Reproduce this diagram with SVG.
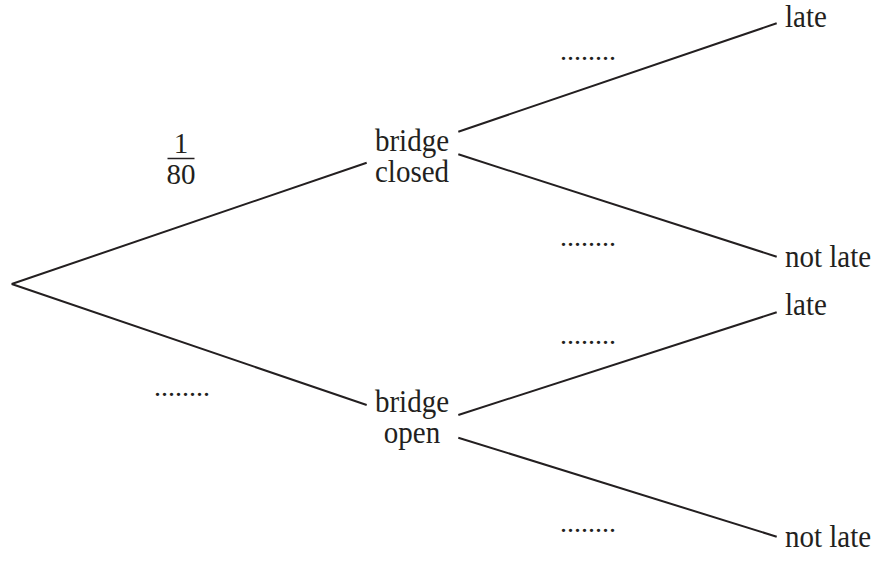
<svg xmlns="http://www.w3.org/2000/svg" width="877" height="564" viewBox="0 0 877 564">
<style>
text{font-family:"Liberation Serif","Times New Roman",serif;font-size:29px;fill:#231f20}
.c{text-anchor:middle}
.d{font-size:28px}
line{stroke:#231f20;stroke-width:2;stroke-linecap:butt}
</style>
<rect width="877" height="564" fill="#fff"/>
<g id="connectors">
<line x1="11.7" y1="284" x2="366.7" y2="162.7"/>
<line x1="11.7" y1="284" x2="366.7" y2="405"/>
<line x1="458.3" y1="131.7" x2="776.7" y2="23.3"/>
<line x1="458.3" y1="154.3" x2="776.7" y2="256.7"/>
<line x1="458.3" y1="415" x2="776.7" y2="312.3"/>
<line x1="458.3" y1="437.7" x2="776.7" y2="536.7"/>
</g>
<g id="bridge-closed"><text class="c" transform="translate(412 151) scale(1 1.06)">bridge</text><text class="c" transform="translate(412 182) scale(1 1.06)">closed</text></g>
<g id="bridge-open"><text class="c" transform="translate(412 412) scale(1 1.06)">bridge</text><text class="c" transform="translate(412 443) scale(1 1.06)">open</text></g>
<g id="closed-late"><text transform="translate(785 27) scale(1 1.06)">late</text></g>
<g id="closed-notlate"><text transform="translate(785 267) scale(1 1.06)">not late</text></g>
<g id="open-late"><text transform="translate(785 315) scale(1 1.06)">late</text></g>
<g id="open-notlate"><text transform="translate(785 547) scale(1 1.06)">not late</text></g>
<g id="labels">
<text class="c" transform="translate(181 153) scale(1 1.04)">1</text>
<line x1="167.5" y1="158.5" x2="194.5" y2="158.5" style="stroke-width:1.5"/>
<text class="c" transform="translate(181 184) scale(1 1.04)">80</text>
<text class="d" x="154" y="396">........</text>
<text class="d" x="560" y="60">........</text>
<text class="d" x="560" y="246">........</text>
<text class="d" x="560" y="344">........</text>
<text class="d" x="560" y="532">........</text>
</g>
</svg>
